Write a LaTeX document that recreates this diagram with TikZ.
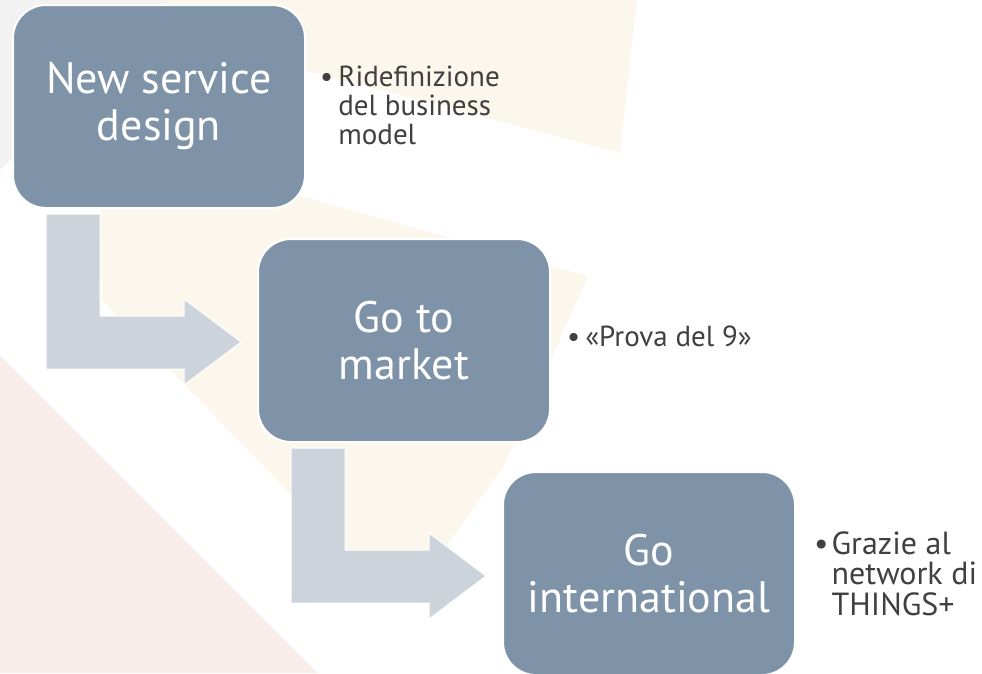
\documentclass[tikz,border=0pt]{standalone}
\usepackage{fontspec}
\setmainfont{PT Sans}
\usetikzlibrary{positioning}

\definecolor{kastenblau}{HTML}{7F93A8}
\definecolor{pfeilgrau}{HTML}{CDD3DA}
\definecolor{textgrau}{HTML}{404040}
\definecolor{creme}{HTML}{FBF7EC}
\definecolor{rosa}{HTML}{F8EDE9}
\definecolor{hgrau}{HTML}{F2F2F2}

\begin{document}
\begin{tikzpicture}[x=1pt,y=-1pt,
    kasten/.style={draw=white, line width=2pt, fill=kastenblau, rounded corners=33pt,
      minimum width=292pt, minimum height=203pt, text=white, align=center,
      font=\fontsize{44}{47}\selectfont},
    pfeil/.style={draw=white, line width=1pt, fill=pfeilgrau},
    punkt/.style={inner sep=0pt, text=textgrau, anchor=west,
      font=\fontsize{29}{28.5}\selectfont}]
    \useasboundingbox (0,0) rectangle (982,673);

    % Hintergrund
    \fill[hgrau] (0,0) -- (170,0) -- (0,170) -- cycle;
    \fill[creme] (167,0) -- (637,0) -- (620,153) -- (190,40) -- cycle;
    \fill[creme] (100,140) -- (588,276) -- (504,466) -- (440,555) -- (350,555) -- (102,300) -- cycle;
    \fill[rosa] (0,355) -- (318,673) -- (0,673) -- cycle;

    % Die drei Kaesten
    \node[kasten] (nsd) at (159,106.5) {New service\\design};
    \node[kasten] (gtm) at (404,340.5) {Go to\\market};
    \node[kasten] (gint) at (649,573.5) {Go\\international};

    % Pfeil vom ersten zum zweiten Kasten
    \begin{scope}[shift={(nsd.south west)}]
      \filldraw[pfeil] (34,5) -- (88,5) -- (88,107) -- (172,107) -- (172,90)
        -- (229,133) -- (172,176) -- (172,160) -- (34,160) -- cycle;
    \end{scope}

    % Pfeil vom zweiten zum dritten Kasten
    \begin{scope}[shift={(gtm.south west)}]
      \filldraw[pfeil] (34,5) -- (88,5) -- (88,107) -- (172,107) -- (172,90)
        -- (229,133) -- (172,176) -- (172,160) -- (34,160) -- cycle;
    \end{scope}

    % Stichpunkte
    \node[punkt, right=14pt of nsd, yshift=-3pt] (t1) {\begin{tabular}{@{}l@{\hspace{5pt}}l@{}}
      \textbullet & Ridefinizione\\ & del business\\ & model\end{tabular}};
    \node[punkt, right=16pt of gtm] (t2) {\begin{tabular}{@{}l@{\hspace{5pt}}l@{}}
      \textbullet & «Prova del 9»\end{tabular}};
    \node[punkt, right=18pt of gint, yshift=-4pt, font=\fontsize{32}{27}\selectfont] (t3)
      {\begin{tabular}{@{}l@{\hspace{3pt}}l@{}}
      \textbullet & Grazie al\\ & network di\\ & THINGS+\end{tabular}};
  \end{tikzpicture}
\end{document}
